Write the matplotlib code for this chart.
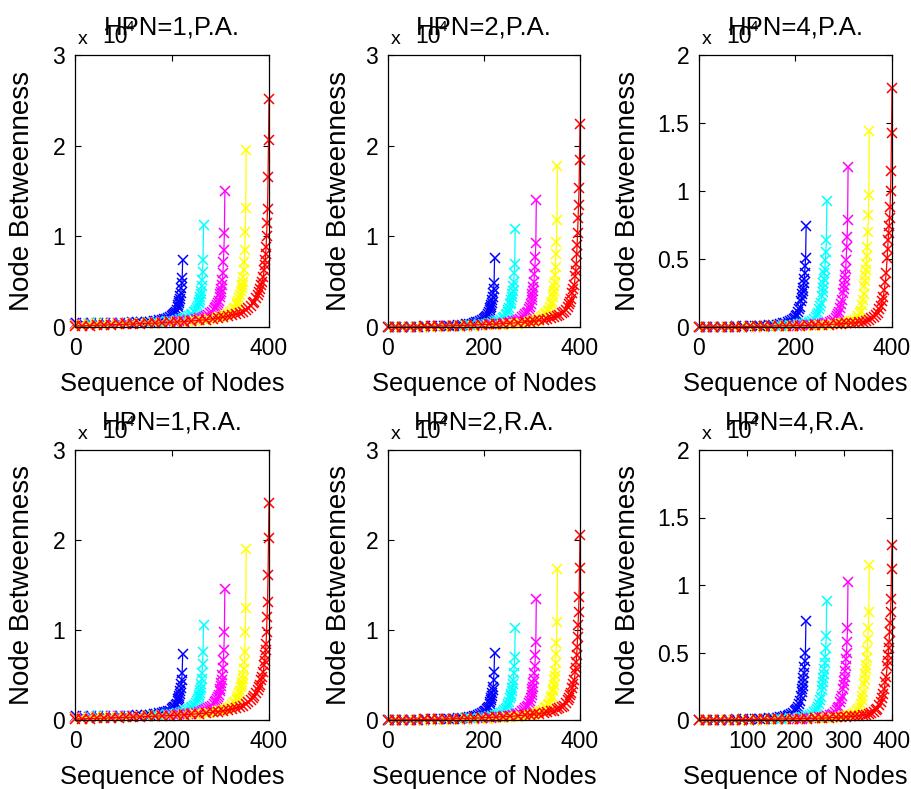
import matplotlib
matplotlib.use('Agg')
import matplotlib.pyplot as plt
import numpy as np
from matplotlib.transforms import offset_copy

plt.rcParams['font.family'] = ['Liberation Sans', 'DejaVu Sans']

# rank counted from the top node (0 = largest betweenness), shared by every series
RANKS = [0, 1, 2, 3, 4, 5, 6, 7, 8, 9, 10, 12, 14, 16, 18, 20, 23, 26, 30, 34, 38, 43, 48, 54, 60,
         68, 76, 85, 95, 105, 115, 130, 145, 160, 175, 190, 205, 220, 235, 250, 265, 280, 295, 310,
         325, 340, 355, 370, 385, 399]

network_sizes = [222, 265, 309, 353, 400]
series_colors = ['#0000ff', '#00ffff', '#ff00ff', '#ffff00', '#ff0000']

titles = ['HPN=1,P.A.', 'HPN=2,P.A.', 'HPN=4,P.A.',
          'HPN=1,R.A.', 'HPN=2,R.A.', 'HPN=4,R.A.']
y_max = [3, 3, 2, 3, 3, 2]

# node betweenness (x 10^4) at each rank; one list per network size: blue, cyan, magenta, yellow, red
pa_n1 = [
    [.74, .54, .48, .43, .38, .34, .31, .285, .26, .24, .22, .19, .17, .155, .14, .13, .117, .105, .097, .09,
     .084, .078, .073, .068, .063, .059, .056, .054, .052, .05, .049, .047, .046, .045, .044, .043, .042, .042],
    [1.12, .74, .61, .52, .45, .40, .36, .33, .30, .28, .26, .23, .21, .19, .17, .16, .148, .135, .122, .11,
     .1, .092, .083, .077, .07, .066, .062, .058, .055, .052, .05, .048, .046, .044, .043, .042, .041, .04,
     .039, .037, .037],
    [1.5, 1.04, .85, .72, .60, .52, .46, .42, .39, .36, .33, .29, .27, .245, .22, .205, .185, .165, .15, .135,
     .125, .115, .104, .095, .088, .081, .075, .07, .065, .062, .059, .055, .051, .048, .046, .044, .042, .041,
     .039, .037, .035, .033, .031, .03],
    [1.95, 1.31, 1.05, .85, .72, .63, .55, .50, .46, .43, .40, .35, .32, .29, .26, .24, .215, .195, .175, .16,
     .145, .13, .12, .108, .10, .091, .085, .078, .073, .068, .064, .058, .054, .05, .047, .045, .043, .041,
     .039, .037, .035, .033, .031, .03, .028, .026, .025],
    [2.52, 2.06, 1.65, 1.30, 1.15, 1.00, .88, .80, .74, .68, .63, .55, .50, .46, .42, .39, .35, .32, .28, .26,
     .235, .21, .19, .17, .155, .14, .13, .118, .108, .1, .093, .08, .073, .066, .06, .055, .05, .047, .043,
     .04, .037, .034, .031, .028, .025, .022, .019, .016, .013, .01],
]
pa_n2 = [
    [.76, .48, .42, .37, .33, .30, .27, .245, .22, .205, .19, .16, .14, .125, .11, .1, .088, .078, .067, .058,
     .05, .043, .037, .031, .028, .023, .019, .016, .013, .011, .01, .007, .006, .005, .003, .002, .001, 0],
    [1.08, .70, .60, .50, .45, .40, .36, .33, .30, .27, .25, .21, .185, .16, .14, .128, .112, .098, .08, .07,
     .062, .054, .047, .04, .037, .032, .028, .024, .021, .018, .016, .011, .009, .007, .005, .004, .003, .002,
     .001, .001, 0],
    [1.40, .93, .77, .66, .58, .50, .44, .40, .36, .33, .30, .25, .225, .195, .17, .155, .138, .12, .105, .09,
     .08, .07, .062, .053, .048, .042, .037, .032, .028, .025, .022, .016, .013, .011, .008, .007, .006, .005,
     .004, .003, .002, .002, .001, 0],
    [1.78, 1.18, .94, .80, .66, .57, .50, .45, .40, .36, .33, .28, .25, .22, .19, .175, .155, .138, .12, .105,
     .093, .082, .072, .062, .055, .049, .043, .038, .034, .03, .027, .02, .017, .014, .011, .009, .007, .006,
     .005, .004, .003, .003, .002, .001, .001, 0, 0],
    [2.24, 1.84, 1.53, 1.35, 1.20, 1.04, .90, .80, .70, .62, .56, .46, .42, .37, .31, .28, .25, .22, .19, .165,
     .15, .135, .122, .108, .10, .09, .08, .072, .065, .06, .055, .047, .042, .037, .033, .029, .025, .022,
     .019, .016, .013, .011, .009, .007, .006, .004, .003, .002, .001, 0],
]
pa_n4 = [
    [.74, .51, .45, .40, .35, .32, .29, .265, .24, .215, .19, .15, .13, .11, .09, .08, .068, .058, .048, .041,
     .035, .03, .026, .022, .018, .015, .013, .011, .009, .008, .007, .005, .004, .003, .002, .002, .001, 0],
    [.93, .64, .55, .49, .43, .40, .35, .32, .29, .26, .23, .18, .155, .13, .10, .088, .073, .06, .047, .039,
     .033, .028, .024, .021, .02, .017, .015, .013, .011, .009, .008, .006, .005, .004, .002, .002, .001, .001,
     .001, 0, 0],
    [1.18, .79, .66, .59, .49, .43, .38, .345, .31, .28, .25, .20, .17, .14, .11, .095, .078, .064, .05, .042,
     .036, .03, .026, .024, .022, .019, .017, .014, .012, .01, .009, .007, .006, .005, .003, .002, .002, .001,
     .001, .001, 0, 0, 0, 0],
    [1.44, .97, .82, .70, .59, .52, .46, .42, .38, .34, .30, .24, .20, .16, .12, .10, .08, .067, .055, .047,
     .041, .036, .032, .028, .026, .022, .02, .017, .015, .013, .011, .008, .007, .006, .004, .004, .003, .002,
     .002, .001, .001, .001, 0, 0, 0, 0, 0],
    [1.76, 1.43, 1.15, 1.00, .88, .80, .74, .69, .64, .57, .51, .40, .33, .27, .22, .19, .155, .13, .105, .088,
     .075, .063, .054, .046, .04, .035, .032, .029, .027, .024, .022, .018, .016, .014, .012, .011, .01, .009,
     .008, .006, .005, .005, .004, .003, .003, .002, .002, .001, .001, 0],
]
ra_n1 = [
    [.73, .52, .45, .40, .36, .32, .29, .27, .25, .23, .21, .18, .165, .15, .14, .13, .117, .105, .097, .09,
     .084, .078, .073, .068, .063, .059, .056, .054, .052, .05, .049, .047, .046, .045, .044, .043, .042, .042],
    [1.06, .76, .62, .52, .46, .40, .36, .33, .30, .28, .26, .23, .21, .19, .17, .16, .148, .135, .122, .11,
     .1, .092, .083, .077, .07, .066, .062, .058, .055, .052, .05, .048, .046, .044, .043, .042, .041, .04,
     .039, .037, .037],
    [1.46, .98, .78, .67, .58, .50, .45, .41, .38, .35, .32, .28, .26, .235, .21, .195, .175, .155, .14, .128,
     .117, .107, .098, .09, .083, .077, .072, .067, .063, .06, .057, .052, .049, .047, .045, .043, .042, .04,
     .039, .036, .034, .032, .031, .03],
    [1.90, 1.24, .98, .76, .65, .57, .50, .46, .42, .39, .37, .32, .30, .27, .24, .225, .205, .185, .165, .15,
     .138, .125, .113, .102, .095, .087, .082, .076, .071, .067, .063, .056, .052, .048, .046, .044, .042, .04,
     .038, .036, .034, .032, .03, .029, .027, .026, .025],
    [2.41, 2.02, 1.61, 1.31, 1.15, .98, .85, .78, .72, .66, .61, .53, .48, .44, .39, .37, .33, .30, .265, .24,
     .22, .2, .18, .16, .145, .132, .12, .11, .1, .094, .088, .077, .07, .064, .058, .053, .049, .046, .042,
     .039, .036, .033, .03, .027, .024, .021, .018, .015, .012, .01],
]
ra_n2 = [
    [.75, .53, .44, .37, .33, .30, .27, .245, .22, .20, .18, .15, .135, .12, .105, .095, .085, .075, .064, .056,
     .049, .042, .036, .031, .027, .022, .019, .016, .013, .011, .01, .007, .006, .005, .003, .002, .001, 0],
    [1.02, .70, .60, .52, .45, .40, .36, .32, .29, .265, .24, .20, .18, .155, .135, .125, .108, .094, .08, .07,
     .06, .052, .045, .039, .035, .031, .027, .023, .02, .017, .014, .01, .008, .007, .005, .004, .003, .002,
     .001, .001, 0],
    [1.35, .87, .72, .60, .52, .46, .41, .37, .34, .31, .28, .24, .215, .19, .16, .148, .128, .113, .097, .083,
     .072, .062, .055, .049, .046, .04, .036, .031, .027, .024, .021, .015, .013, .011, .008, .007, .006, .005,
     .004, .003, .002, .002, .001, 0],
    [1.68, 1.09, .86, .73, .63, .55, .49, .44, .39, .35, .32, .27, .24, .21, .18, .165, .148, .13, .11, .098,
     .088, .077, .068, .058, .052, .046, .041, .036, .032, .028, .025, .019, .016, .013, .01, .008, .007, .005,
     .005, .004, .003, .003, .002, .001, .001, 0, 0],
    [2.06, 1.69, 1.37, 1.20, 1.06, .92, .81, .72, .64, .58, .53, .44, .40, .36, .30, .28, .25, .22, .185, .16,
     .145, .13, .118, .105, .095, .086, .078, .07, .064, .058, .054, .046, .041, .036, .032, .028, .024, .021,
     .018, .015, .012, .01, .008, .007, .006, .004, .003, .002, .001, 0],
]
ra_n4 = [
    [.73, .50, .44, .39, .35, .31, .28, .255, .23, .205, .18, .14, .12, .1, .085, .075, .063, .054, .045, .038,
     .033, .028, .024, .02, .017, .014, .012, .01, .009, .008, .007, .005, .004, .003, .002, .002, .001, 0],
    [.88, .62, .53, .47, .42, .38, .34, .31, .28, .25, .22, .17, .145, .12, .095, .083, .068, .056, .045, .037,
     .031, .026, .022, .019, .018, .015, .013, .011, .01, .008, .007, .005, .004, .003, .002, .002, .001, .001,
     .001, 0, 0],
    [1.02, .68, .58, .50, .45, .40, .36, .32, .29, .26, .23, .18, .155, .13, .10, .088, .073, .06, .047, .04,
     .034, .028, .024, .021, .02, .017, .015, .013, .011, .009, .008, .006, .005, .004, .003, .002, .002, .001,
     .001, .001, 0, 0, 0, 0],
    [1.15, .80, .68, .60, .52, .46, .41, .375, .34, .30, .27, .21, .18, .15, .12, .10, .08, .066, .053, .045,
     .04, .034, .03, .026, .024, .021, .018, .016, .014, .012, .01, .008, .007, .006, .004, .004, .003, .002,
     .002, .001, .001, .001, 0, 0, 0, 0, 0],
    [1.30, 1.12, .90, .80, .72, .65, .58, .53, .48, .44, .40, .32, .28, .23, .19, .165, .135, .11, .085, .072,
     .062, .053, .046, .04, .038, .033, .029, .026, .024, .021, .02, .016, .014, .013, .011, .01, .009, .008,
     .007, .005, .005, .004, .003, .003, .002, .002, .002, .001, .001, 0],
]
panels = [pa_n1, pa_n2, pa_n4, ra_n1, ra_n2, ra_n4]

fig = plt.figure(figsize=(9.12, 7.89), dpi=100)
W, H = 912, 789
col_px = [(75, 194), (388, 192), (699, 193)]
row_px = [(55, 327), (450, 720)]
ylabel_x = [-0.205, -0.19, -0.30]

for k, series in enumerate(panels):
    r, c = divmod(k, 3)
    left, width = col_px[c]
    top, bottom = row_px[r]
    ax = fig.add_axes([left / W, 1 - bottom / H, width / W, (bottom - top) / H])

    for vals, n, col in zip(series, network_sizes, series_colors):
        ranks = np.array(RANKS[:len(vals)])
        x = np.maximum(n - ranks, 1)
        ax.plot(x, vals, '-x', color=col, lw=0.9, ms=6.5, mew=1.1, clip_on=False)

    ax.set_ylim(0, y_max[k])
    if y_max[k] == 3:
        ax.set_yticks([0, 1, 2, 3])
        ax.set_yticklabels(['0', '1', '2', '3'])
    else:
        ax.set_yticks([0, 0.5, 1, 1.5, 2])
        ax.set_yticklabels(['0', '0.5', '1', '1.5', '2'])
    if k == 5:
        ax.set_xlim(1, 400)
        ax.set_xticks([100, 200, 300, 400])
    else:
        ax.set_xlim(0, 400)
        ax.set_xticks([0, 200, 400])

    ax.tick_params(direction='in', length=4, width=0.8, top=True, right=True,
                   labelsize=16.5, pad=7, colors='black')
    for sp in ax.spines.values():
        sp.set_linewidth(0.9)

    ax.set_xlabel('Sequence of Nodes', fontsize=18.4)
    ax.xaxis.set_label_coords(0.5, -0.165)
    ax.set_ylabel('Node Betweenness', fontsize=20)
    ax.yaxis.set_label_coords(ylabel_x[c], 0.5)

    ax.set_title(titles[k], fontsize=18.5, pad=15)
    ax.text(0, 0, 'x', fontsize=14, ha='left', va='baseline',
            transform=offset_copy(ax.transAxes, fig=fig, x=3, y=(bottom - top) + 11, units='dots'))
    ax.text(0, 0, '10', fontsize=16.5, ha='left', va='baseline',
            transform=offset_copy(ax.transAxes, fig=fig, x=27, y=(bottom - top) + 12, units='dots'))
    ax.text(0, 0, '4', fontsize=11, ha='left', va='baseline',
            transform=offset_copy(ax.transAxes, fig=fig, x=51, y=(bottom - top) + 24, units='dots'))

fig.savefig('out.png', dpi=100, facecolor='white')
